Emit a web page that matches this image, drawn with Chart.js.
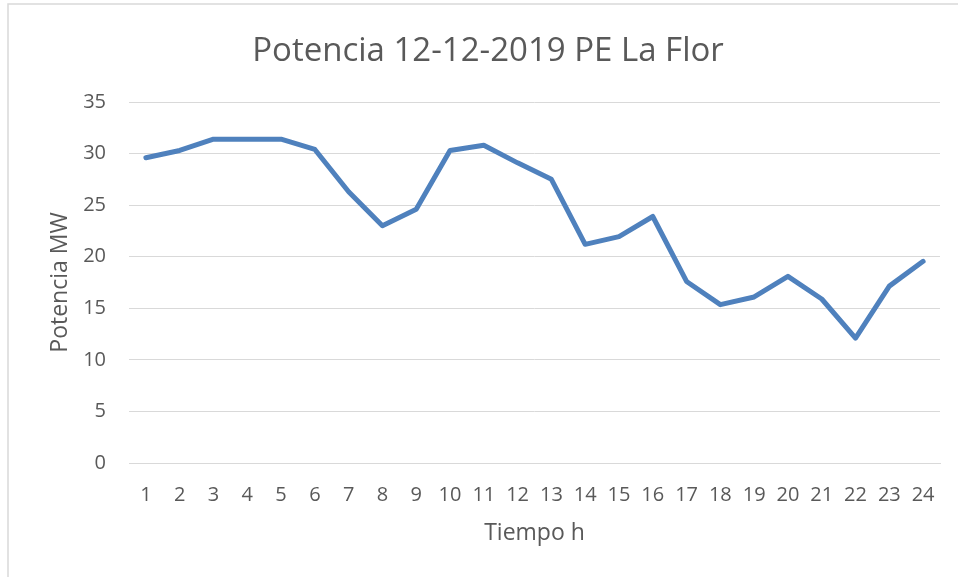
<!DOCTYPE html>
<html>
<head>
<meta charset="utf-8">
<script src="https://cdn.jsdelivr.net/npm/chart.js@4/dist/chart.umd.min.js"></script>
<style>
  html, body { margin: 0; padding: 0; background: #ffffff; }
  #wrap { position: absolute; left: 0; top: 0; width: 958px; height: 577px; }
</style>
</head>
<body>
<div id="wrap"><canvas id="c" width="958" height="577"></canvas></div>
<script>
const hours = ['1','2','3','4','5','6','7','8','9','10','11','12','13','14','15','16','17','18','19','20','21','22','23','24'];
const potenciaMW = [29.6, 30.3, 31.4, 31.4, 31.4, 30.4, 26.3, 23.0, 24.6, 30.3, 30.8, 29.1, 27.5, 21.2, 21.95, 23.9, 17.6, 15.35, 16.1, 18.1, 15.9, 12.1, 17.15, 19.55];
const yTicks = [0, 5, 10, 15, 20, 25, 30, 35];
const chartTitle = 'Potencia 12-12-2019 PE La Flor';
const xTitle = 'Tiempo h';
const yTitle = 'Potencia MW';

const textColor = '#595959';
const gridColor = '#d9d9d9';
const fontFamily = '"Open Sans", "Liberation Sans", sans-serif';

const frame = {
  id: 'frame',
  beforeDraw(chart) {
    const ctx = chart.ctx;
    ctx.save();
    ctx.fillStyle = '#ffffff';
    ctx.fillRect(0, 0, chart.width, chart.height);
    ctx.strokeStyle = gridColor;
    ctx.lineWidth = 1.5;
    ctx.strokeRect(8, 4, 2000, 2000);
    ctx.restore();
  }
};

new Chart(document.getElementById('c'), {
  type: 'line',
  data: {
    labels: hours,
    datasets: [{
      label: yTitle,
      data: potenciaMW,
      borderColor: '#4f81bd',
      backgroundColor: '#4f81bd',
      borderWidth: 5,
      pointRadius: 0,
      tension: 0,
      borderCapStyle: 'round',
      borderJoinStyle: 'round',
      fill: false
    }]
  },
  options: {
    responsive: false,
    animation: false,
    devicePixelRatio: 1,
    layout: { padding: { left: 36, right: 18, top: 0, bottom: 0 } },
    plugins: {
      legend: { display: false },
      tooltip: { enabled: false },
      title: {
        display: true,
        text: chartTitle,
        color: textColor,
        font: { family: fontFamily, size: 33, weight: 'normal' },
        padding: { top: 31.6, bottom: 30.8 }
      }
    },
    scales: {
      x: {
        offset: true,
        grid: { display: false, drawTicks: false },
        border: { display: true, color: gridColor, width: 1 },
        ticks: {
          color: textColor,
          font: { family: fontFamily, size: 20 },
          padding: 20,
          maxRotation: 0,
          autoSkip: false
        },
        title: {
          display: true,
          text: xTitle,
          color: textColor,
          font: { family: fontFamily, size: 23 },
          padding: { top: 0, bottom: 29.8 }
        },
        afterFit(scale) { scale.height = 114; }
      },
      y: {
        min: 0,
        max: 35,
        afterBuildTicks(scale) { scale.ticks = yTicks.map(v => ({ value: v })); },
        grid: { color: gridColor, lineWidth: 1, drawTicks: false },
        border: { display: false },
        ticks: {
          color: textColor,
          font: { family: fontFamily, size: 20 },
          padding: 23
        },
        title: {
          display: true,
          text: yTitle,
          color: textColor,
          font: { family: fontFamily, size: 23 },
          padding: { top: 10.6, bottom: 0 }
        },
        afterFit(scale) { scale.width = 93; }
      }
    }
  },
  plugins: [frame]
});
</script>
</body>
</html>
